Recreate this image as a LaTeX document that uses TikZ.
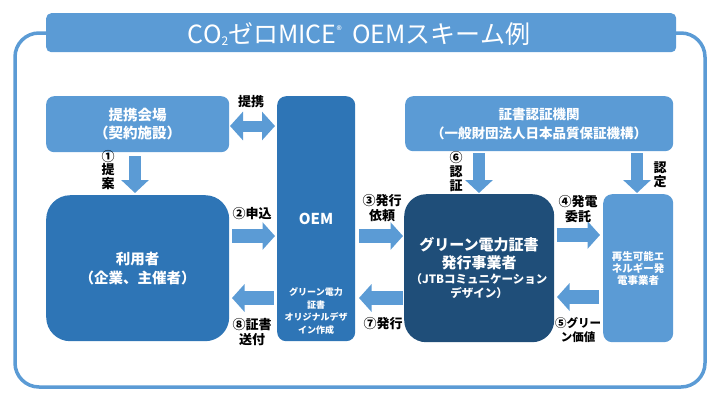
\documentclass[tikz,border=0pt]{standalone}
\usepackage{fontspec}
\newfontfamily\jp{Noto Sans CJK JP}
\usetikzlibrary{arrows.meta}
\definecolor{lb}{HTML}{5B9BD5}
\definecolor{mb}{HTML}{2E75B6}
\definecolor{db}{HTML}{1F4E79}
\tikzset{
  box/.style={rectangle, anchor=north west, inner sep=0pt, align=center, text=white},
  btxt/.style={inner sep=0pt, align=center, text=white, font=\jp\bfseries\fontsize{#1}{#1}\selectfont},
  lbl/.style={inner sep=0pt, align=center, text=black, font=\jp\bfseries\fontsize{13}{15.5}\selectfont},
  harrow/.style={draw=lb, line width=14pt, -{Triangle[length=12.5pt, width=27pt]}},
  varrow/.style={draw=lb, line width=12pt, -{Triangle[length=13pt, width=27pt]}},
  darrow/.style={draw=lb, line width=11pt, {Triangle[length=13pt, width=28pt]}-{Triangle[length=13pt, width=28pt]}},
}
\begin{document}
\begin{tikzpicture}[x=1pt, y=-1pt]
\useasboundingbox (0,0) rectangle (720,405);
% outer frame
\draw[lb, line width=3.5pt, rounded corners=24pt] (15,33) rectangle (705,387);
% title bar
\node[box, fill=lb, rounded corners=5pt, minimum width=630pt, minimum height=39pt] (titlebar) at (46,13) {};
\node[inner sep=0pt, text=white, font=\jp\fontsize{25}{28}\selectfont] (title) at (359,34)
  {CO\raisebox{-2pt}{\fontsize{12}{12}\selectfont 2}ゼロMICE\raisebox{9pt}{\fontsize{11}{11}\selectfont ®}\hspace{5pt} OEMスキーム例};
% boxes
\node[box, fill=lb, rounded corners=8pt, minimum width=183pt, minimum height=56pt,
  font=\jp\bfseries\fontsize{14.5}{18}\selectfont] (venue) at (46,96) {提携会場\\（契約施設）};
\node[box, fill=mb, rounded corners=24pt, minimum width=183pt, minimum height=146pt,
  font=\jp\bfseries\fontsize{14.5}{19}\selectfont] (user) at (46,195) {利用者\\（企業、主催者）};
\node[box, fill=mb, rounded corners=9pt, minimum width=78pt, minimum height=245pt] (oem) at (277,96) {};
\node[btxt=15] (oemt) at (316,219) {OEM};
\node[btxt=9, font=\jp\bfseries\fontsize{9}{12.5}\selectfont] (oemd) at (316,311) {グリーン電力\\証書\\オリジナルデザ\\イン作成};
\node[box, fill=lb, rounded corners=8pt, minimum width=268pt, minimum height=55pt,
  font=\jp\bfseries\fontsize{13.5}{19}\selectfont] (jqa) at (405,96) {証書認証機関\\（一般財団法人日本品質保証機構）};
\node[box, fill=db, rounded corners=22pt, minimum width=150pt, minimum height=148pt] (green) at (404,194) {};
\node[btxt=15, font=\jp\bfseries\fontsize{15}{18}\selectfont] (greent) at (479,254) {グリーン電力証書\\発行事業者};
\node[btxt=11.5, font=\jp\bfseries\fontsize{11.5}{14}\selectfont] (greens) at (479,286) {（JTBコミュニケーション\\デザイン）};
\node[box, fill=lb, rounded corners=9pt, minimum width=70pt, minimum height=148pt,
  font=\jp\bfseries\fontsize{10.5}{12}\selectfont] (gen) at (603,194) {再生可能エ\\ネルギー発\\電事業者};
% arrow end points
\coordinate (t1) at (230,126); \coordinate (t2) at (275,126);
\coordinate (p1) at (135,156); \coordinate (p2) at (135,193);
\coordinate (a2s) at (232,236); \coordinate (a2e) at (275,236);
\coordinate (a3s) at (359,236); \coordinate (a3e) at (403,236);
\coordinate (a4s) at (557,235); \coordinate (a4e) at (600,235);
\coordinate (a6s) at (479,153); \coordinate (a6e) at (479,193);
\coordinate (ads) at (637,153); \coordinate (ade) at (637,193);
\coordinate (a5s) at (599,297); \coordinate (a5e) at (557,297);
\coordinate (a7s) at (403,298); \coordinate (a7e) at (359,298);
\coordinate (a8s) at (274,298); \coordinate (a8e) at (232,298);
% arrows
\draw[darrow] (t1) -- (t2);
\draw[varrow] (p1) -- (p2);
\draw[harrow] (a2s) -- (a2e);
\draw[harrow] (a3s) -- (a3e);
\draw[harrow] (a4s) -- (a4e);
\draw[varrow] (a6s) -- (a6e);
\draw[varrow] (ads) -- (ade);
\draw[harrow] (a5s) -- (a5e);
\draw[harrow] (a7s) -- (a7e);
\draw[harrow] (a8s) -- (a8e);
% labels
\node[lbl] (lt) at (251,102) {提携};
\node[lbl, font=\jp\bfseries\fontsize{13}{13.5}\selectfont] (l1) at (108,170) {①\\提\\案};
\node[lbl] (l2) at (252,214) {②申込};
\node[lbl] (l3) at (382,208) {③発行\\依頼};
\node[lbl, font=\jp\bfseries\fontsize{13}{14}\selectfont] (l6) at (456,172) {⑥\\認\\証};
\node[lbl, font=\jp\bfseries\fontsize{13}{14}\selectfont] (ld) at (660,175) {認\\定};
\node[lbl] (l4) at (578,209) {④発電\\委託};
\node[lbl, font=\jp\bfseries\fontsize{11.5}{14}\selectfont] (l5) at (578,330) {⑤グリー\\ン価値};
\node[lbl] (l7) at (383,324) {⑦発行};
\node[lbl] (l8) at (252,332) {⑧証書\\送付};
\end{tikzpicture}
\end{document}
